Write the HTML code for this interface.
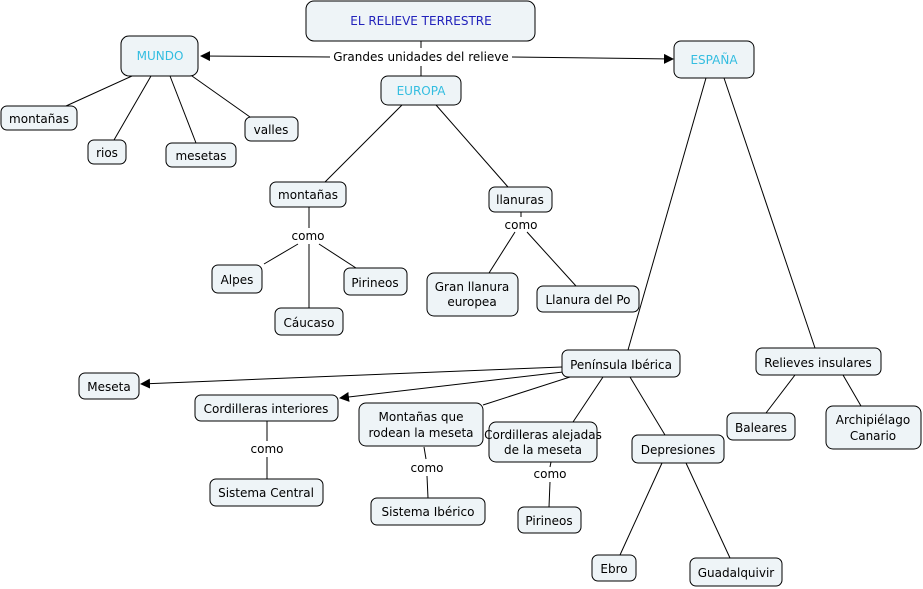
<!DOCTYPE html>
<html><head><meta charset="utf-8"><style>
html,body{margin:0;padding:0;background:#fff;}
svg{display:block;}
text{font-family:"DejaVu Sans","Liberation Sans",sans-serif;font-size:12px;fill:#000;text-anchor:middle;}
rect{fill:#eef4f7;stroke:#000;stroke-width:1;}
line{stroke:#000;stroke-width:1;}
</style></head><body>
<svg width="923" height="589" viewBox="0 0 923 589" xmlns="http://www.w3.org/2000/svg">
<defs><marker id="a" markerWidth="10" markerHeight="10" refX="9" refY="5" orient="auto" markerUnits="userSpaceOnUse"><path d="M0,0 L10,5 L0,10 z" fill="#000"/></marker></defs>
<!-- lines -->
<line x1="421" y1="41" x2="421" y2="48"/>
<line x1="421" y1="66" x2="421" y2="76"/>
<line x1="330" y1="57" x2="201" y2="56" marker-end="url(#a)"/>
<line x1="512" y1="57" x2="673" y2="59" marker-end="url(#a)"/>
<line x1="132" y1="76" x2="66" y2="106"/>
<line x1="151" y1="76" x2="114" y2="140"/>
<line x1="170" y1="76" x2="196" y2="143"/>
<line x1="192" y1="76" x2="250" y2="117"/>
<line x1="402" y1="105" x2="325" y2="182"/>
<line x1="436" y1="105" x2="508" y2="187"/>
<line x1="309" y1="207" x2="309" y2="228"/>
<line x1="298" y1="244" x2="264" y2="264"/>
<line x1="309" y1="244" x2="309" y2="308"/>
<line x1="319" y1="244" x2="356" y2="268"/>
<line x1="521" y1="212" x2="521" y2="217"/>
<line x1="515" y1="232" x2="489" y2="273"/>
<line x1="527" y1="232" x2="576" y2="286"/>
<line x1="706" y1="78" x2="628" y2="350"/>
<line x1="724" y1="78" x2="815" y2="348"/>
<line x1="562" y1="367" x2="141" y2="384" marker-end="url(#a)"/>
<line x1="563" y1="372" x2="340" y2="398" marker-end="url(#a)"/>
<line x1="570" y1="377" x2="483" y2="405"/>
<line x1="603" y1="377" x2="573" y2="422"/>
<line x1="630" y1="377" x2="665" y2="435"/>
<line x1="795" y1="375" x2="766" y2="413"/>
<line x1="843" y1="375" x2="861" y2="406"/>
<line x1="267" y1="421" x2="267" y2="441"/>
<line x1="267" y1="457" x2="267" y2="479"/>
<line x1="424" y1="447" x2="426" y2="459"/>
<line x1="427" y1="476" x2="428" y2="498"/>
<line x1="551" y1="462" x2="550" y2="467"/>
<line x1="550" y1="482" x2="549" y2="507"/>
<line x1="662" y1="463" x2="620" y2="555"/>
<line x1="686" y1="463" x2="730" y2="558"/>
<!-- labels -->
<text x="421" y="61">Grandes unidades del relieve</text>
<text x="308" y="240">como</text>
<text x="521" y="229">como</text>
<text x="267" y="453">como</text>
<text x="427" y="472">como</text>
<text x="550" y="478">como</text>
<!-- nodes -->
<rect x="306" y="1" width="229" height="40" rx="8"/><text x="421" y="25" style="fill:#2222bb">EL RELIEVE TERRESTRE</text>
<rect x="121" y="36" width="77" height="40" rx="8"/><text x="160" y="60" style="fill:#33bde0">MUNDO</text>
<rect x="381" y="76" width="80" height="29" rx="7"/><text x="421" y="95" style="fill:#33bde0">EUROPA</text>
<rect x="674" y="41" width="80" height="37" rx="7"/><text x="714" y="64" style="fill:#33bde0">ESPAÑA</text>
<rect x="1" y="106" width="76" height="24" rx="6"/><text x="39" y="123">montañas</text>
<rect x="88" y="140" width="38" height="24" rx="6"/><text x="107" y="157">rios</text>
<rect x="166" y="143" width="70" height="24" rx="6"/><text x="201" y="160">mesetas</text>
<rect x="245" y="117" width="53" height="24" rx="6"/><text x="271" y="134">valles</text>
<rect x="270" y="182" width="76" height="25" rx="6"/><text x="308" y="199">montañas</text>
<rect x="489" y="187" width="63" height="25" rx="6"/><text x="520" y="204">llanuras</text>
<rect x="212" y="265" width="50" height="28" rx="6"/><text x="237" y="284">Alpes</text>
<rect x="344" y="268" width="63" height="27" rx="6"/><text x="375" y="287">Pirineos</text>
<rect x="275" y="308" width="68" height="27" rx="6"/><text x="309" y="327">Cáucaso</text>
<rect x="427" y="273" width="91" height="43" rx="7"/><text x="472" y="291">Gran llanura</text><text x="472" y="306">europea</text>
<rect x="537" y="286" width="102" height="26" rx="6"/><text x="588" y="304">Llanura del Po</text>
<rect x="562" y="350" width="118" height="27" rx="6"/><text x="621" y="369">Península Ibérica</text>
<rect x="756" y="348" width="125" height="27" rx="6"/><text x="818" y="367">Relieves insulares</text>
<rect x="79" y="373" width="60" height="26" rx="6"/><text x="109" y="391">Meseta</text>
<rect x="195" y="395" width="143" height="26" rx="6"/><text x="266" y="413">Cordilleras interiores</text>
<rect x="359" y="403" width="124" height="43" rx="7"/><text x="421" y="421">Montañas que</text><text x="421" y="437">rodean la meseta</text>
<rect x="489" y="422" width="108" height="40" rx="7"/><text x="543" y="439">Cordilleras alejadas</text><text x="543" y="454">de la meseta</text>
<rect x="632" y="435" width="92" height="28" rx="6"/><text x="678" y="454">Depresiones</text>
<rect x="727" y="413" width="68" height="27" rx="6"/><text x="761" y="432">Baleares</text>
<rect x="826" y="406" width="95" height="43" rx="7"/><text x="873" y="424">Archipiélago</text><text x="873" y="440">Canario</text>
<rect x="210" y="479" width="113" height="27" rx="6"/><text x="266" y="497">Sistema Central</text>
<rect x="371" y="498" width="114" height="27" rx="6"/><text x="428" y="516">Sistema Ibérico</text>
<rect x="518" y="507" width="63" height="26" rx="6"/><text x="549" y="525">Pirineos</text>
<rect x="592" y="555" width="44" height="26" rx="6"/><text x="614" y="573">Ebro</text>
<rect x="690" y="558" width="92" height="28" rx="6"/><text x="736" y="577">Guadalquivir</text>
</svg>
</body></html>
